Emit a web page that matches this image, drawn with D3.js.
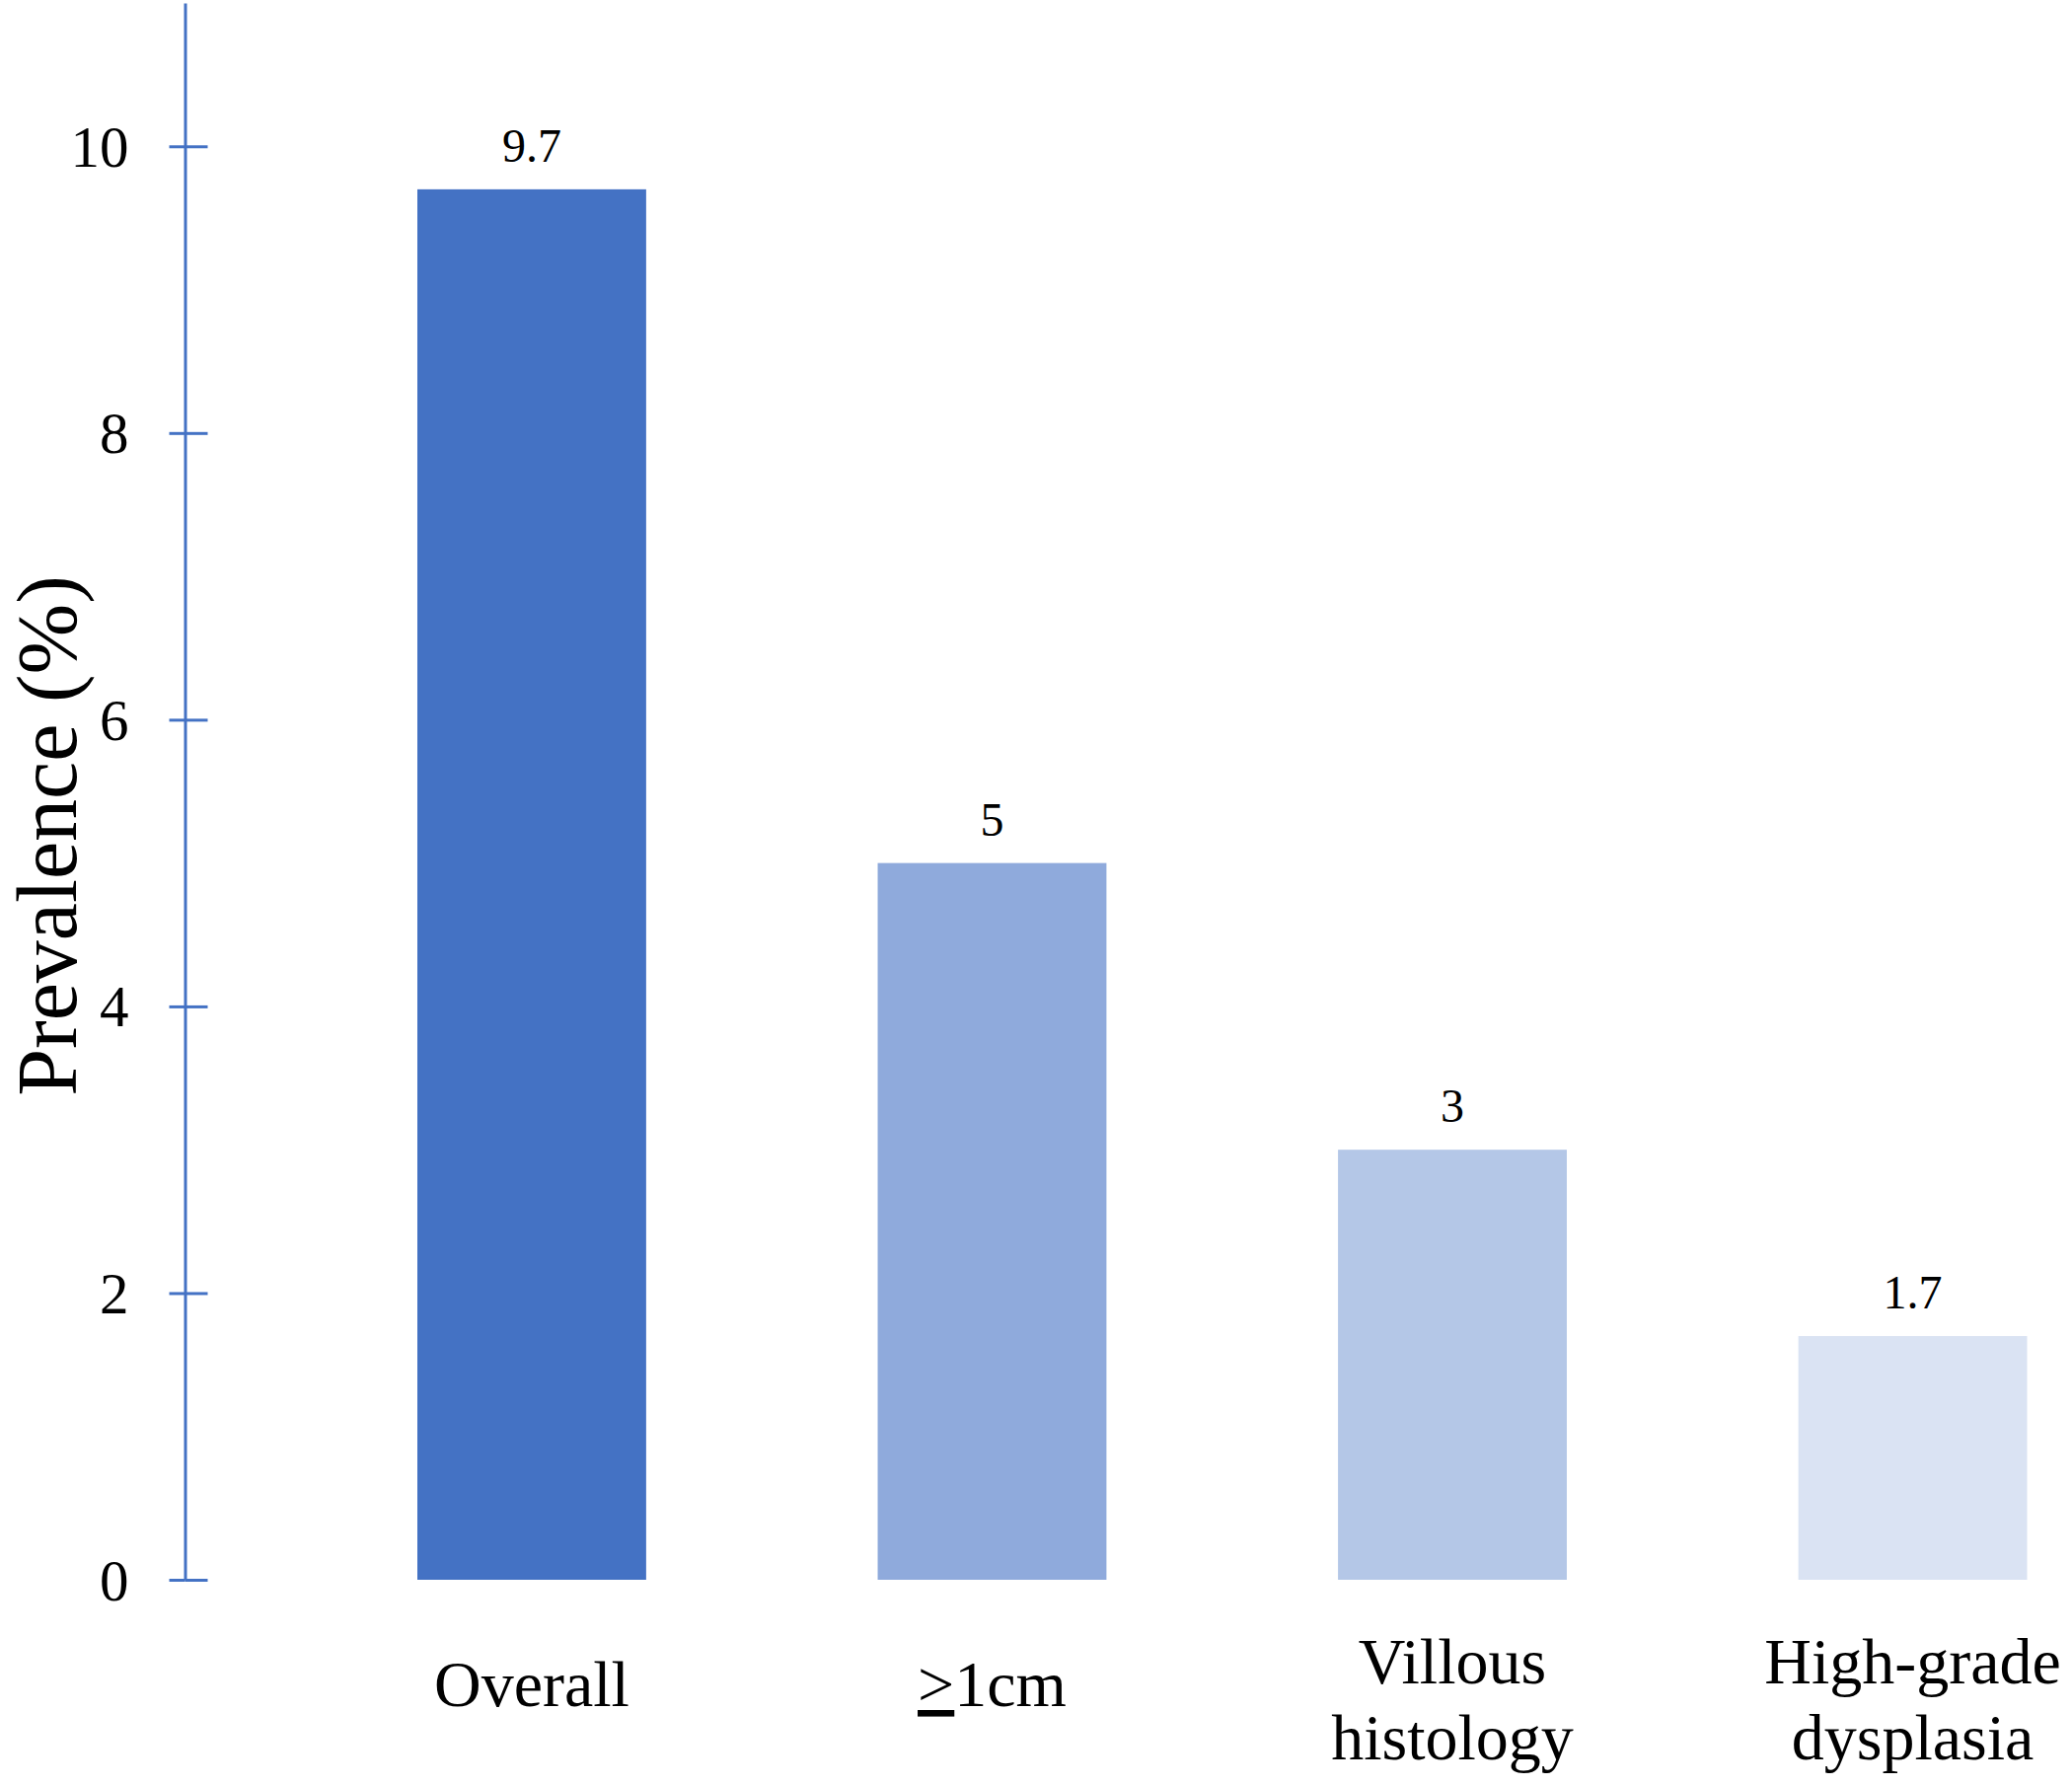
<!DOCTYPE html>
<meta charset="utf-8">
<style>
    body { margin: 0; background: #fff; }
    .chart text {
        font-family: "Liberation Serif", "Times New Roman", serif;
        fill: #000;
    }
    .axis path, .axis line {
        stroke: #4472C4;
        stroke-width: 3;
    }
    .axis text { font-size: 59px; }
    .bar-label { font-size: 48px; text-anchor: middle; }
    .cat-label { font-size: 66px; text-anchor: middle; }
    .y-title { font-size: 86px; text-anchor: middle; }
</style>
<svg class="chart"></svg>
<script src="https://cdn.jsdelivr.net/npm/d3@7"></script>
<script>
    // data
    var categories = ["Overall", "≥1cm", "Villous\nhistology", "High-grade\ndysplasia"];
    var prevalence = [9.7, 5, 3, 1.7];
    var valueLabels = ["9.7", "5", "3", "1.7"];
    var yTicks = [0, 2, 4, 6, 8, 10];
    var yTitle = "Prevalence (%)";

    var barColors = ["#4472C4", "#8FAADC", "#B4C7E7", "#DAE3F3"];

    function drawChart() {
        var width = 2100,
            height = 1810;
        var axisX = 187.5;

        var svg = d3.select(".chart")
            .attr("width", width)
            .attr("height", height);

        svg.append("rect")
            .attr("width", width)
            .attr("height", height)
            .attr("fill", "#fff");

        var y = d3.scaleLinear()
            .domain([0, 11])
            .range([1601, 3]);

        var x = d3.scaleBand()
            .domain(categories)
            .range([423, 2054.5])
            .paddingInner(0.503)
            .paddingOuter(0);

        var color = d3.scaleOrdinal(categories, barColors);

        // y axis, ticks crossing the line
        var yAxis = d3.axisLeft(y)
            .tickValues(yTicks)
            .tickSize(-23)
            .tickSizeOuter(0)
            .tickPadding(57)
            .tickFormat(d3.format("d"));

        var gy = svg.append("g")
            .attr("class", "axis")
            .attr("transform", "translate(" + axisX + ",0)")
            .call(yAxis);

        gy.selectAll(".tick").append("line")
            .attr("x1", -16)
            .attr("x2", 0);

        gy.selectAll(".tick text").attr("dy", "0.34em");

        svg.append("text")
            .attr("class", "y-title")
            .attr("transform", "translate(77,847) rotate(-90)")
            .text(yTitle);

        var bar = svg.selectAll("g.bar")
            .data(categories)
            .enter().append("g")
            .attr("class", "bar");

        bar.append("rect")
            .attr("x", function (d) { return x(d); })
            .attr("y", function (d, i) { return y(prevalence[i]); })
            .attr("width", x.bandwidth())
            .attr("height", function (d, i) { return y(0) - y(prevalence[i]); })
            .attr("fill", function (d) { return color(d); });

        bar.append("text")
            .attr("class", "bar-label")
            .attr("x", function (d) { return x(d) + x.bandwidth() / 2; })
            .attr("y", function (d, i) { return y(prevalence[i]) - 28; })
            .text(function (d, i) { return valueLabels[i]; });

        // category labels under the bars
        bar.each(function (d) {
            var lines = d.split("\n");
            var cx = x(d) + x.bandwidth() / 2;
            var firstY = lines.length > 1 ? 1706 : 1729;
            var t = d3.select(this).append("text")
                .attr("class", "cat-label")
                .attr("x", cx)
                .attr("y", firstY);
            lines.forEach(function (line, k) {
                var row = t.append("tspan")
                    .attr("x", cx)
                    .attr("y", firstY + k * 77);
                if (line.charAt(0) === "≥") {
                    row.append("tspan")
                        .style("text-decoration", "underline")
                        .text(">");
                    row.append("tspan").text(line.slice(1));
                } else {
                    row.text(line);
                }
            });
        });
    }

    drawChart();
</script>
